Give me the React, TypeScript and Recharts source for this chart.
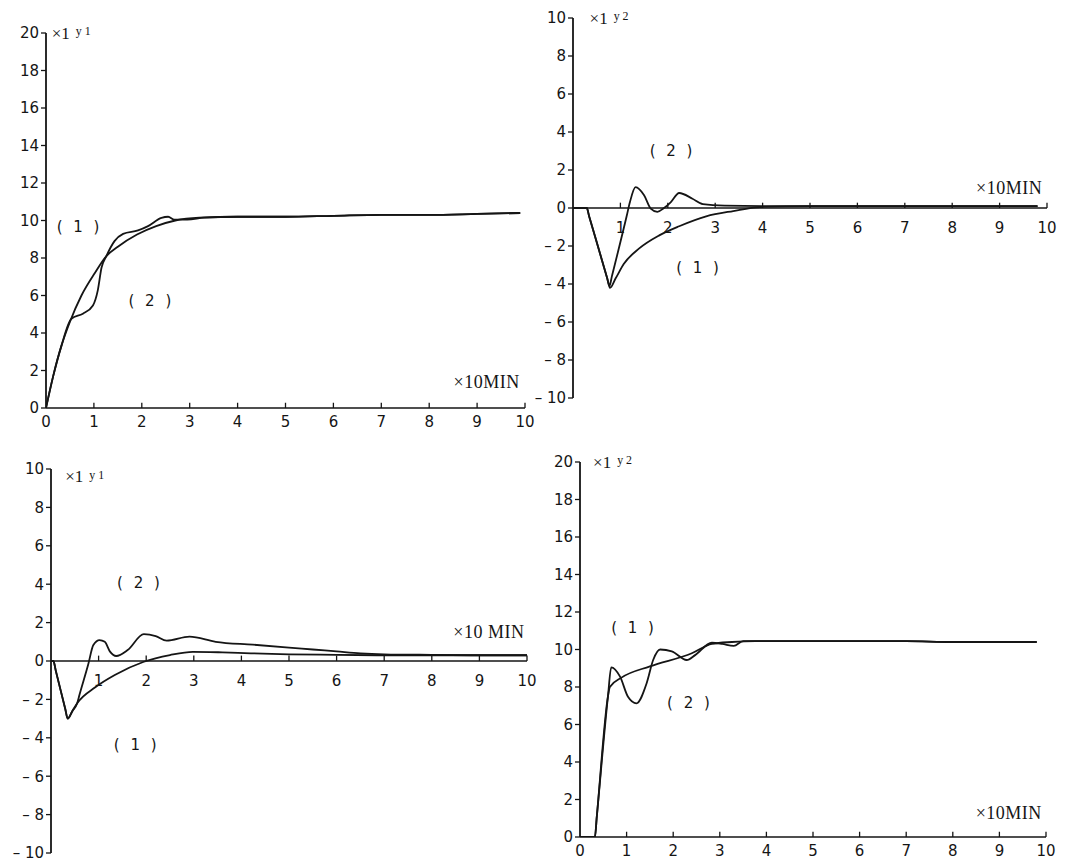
import React from "react";
import { LineChart, Line, XAxis, YAxis, ReferenceLine, ReferenceDot } from "recharts";

const INK = "#151515";
const NUM_FONT = "'DejaVu Sans', sans-serif";
const TITLE_FONT = "'Liberation Serif', serif";

const X_TICKS = [0, 1, 2, 3, 4, 5, 6, 7, 8, 9, 10];
const Y_TICKS_UP = [0, 2, 4, 6, 8, 10, 12, 14, 16, 18, 20];
const Y_TICKS_SYM = [-10, -8, -6, -4, -2, 0, 2, 4, 6, 8, 10];

// top left – y1, curves (1) and (2)
const tlX1 = [0, 0.15, 0.32, 0.5, 0.74, 1.02, 1.26, 1.5, 1.9, 2.3, 2.7, 3.2, 4, 5, 6, 7, 8, 9, 9.9];
const tlY1 = [0, 1.7, 3.3, 4.6, 6.0, 7.2, 8.1, 8.6, 9.25, 9.7, 10.0, 10.15, 10.2, 10.2, 10.25, 10.3, 10.3, 10.35, 10.4];
const tlX2 = [0, 0.15, 0.32, 0.53, 0.77, 0.98, 1.08, 1.16, 1.26, 1.43, 1.61, 1.92, 2.13, 2.41, 2.55, 2.68, 2.95, 3.3, 4, 5, 6, 7, 8, 9, 9.9];
const tlY2 = [0, 1.7, 3.3, 4.76, 5.03, 5.47, 6.26, 7.49, 8.1, 8.9, 9.29, 9.47, 9.7, 10.14, 10.2, 10.05, 10.05, 10.15, 10.2, 10.2, 10.25, 10.3, 10.3, 10.35, 10.4];

// top right – y2
const trX1 = [0, 0.29, 0.34, 0.72, 0.78, 0.9, 1.07, 1.39, 1.82, 2.24, 2.81, 3.38, 3.94, 5, 6, 7, 8, 9, 9.8];
const trY1 = [0, 0, -0.43, -3.68, -4.2, -3.7, -2.95, -2.14, -1.44, -0.96, -0.44, -0.16, 0.05, 0.1, 0.1, 0.1, 0.1, 0.1, 0.1];
const trX2 = [0, 0.29, 0.34, 0.72, 0.77, 0.82, 1.13, 1.2, 1.32, 1.5, 1.64, 1.78, 1.92, 2.06, 2.24, 2.52, 2.74, 3.2, 4, 5, 6, 7, 8, 9, 9.8];
const trY2 = [0, 0, -0.43, -3.68, -4.1, -3.6, -0.45, 0.3, 1.1, 0.67, -0.03, -0.2, 0.0, 0.3, 0.79, 0.49, 0.2, 0.12, 0.1, 0.1, 0.1, 0.1, 0.1, 0.1, 0.1];

// bottom left – y1
const blX1 = [0, 0.05, 0.1, 0.3, 0.35, 0.45, 0.55, 0.93, 1.34, 1.95, 2.5, 2.98, 3.6, 4.2, 5, 6, 7, 8, 9, 10];
const blY1 = [0, 0, -0.5, -2.5, -3.0, -2.6, -2.2, -1.37, -0.73, -0.04, 0.31, 0.48, 0.45, 0.4, 0.35, 0.32, 0.3, 0.3, 0.3, 0.3];
const blX2 = [0, 0.05, 0.1, 0.3, 0.35, 0.45, 0.55, 0.6, 0.78, 0.89, 1.02, 1.13, 1.24, 1.37, 1.61, 1.95, 2.2, 2.43, 2.91, 3.46, 4.24, 5, 5.5, 6, 6.5, 7, 8, 9, 10];
const blY2 = [0, 0, -0.5, -2.5, -3.0, -2.6, -2.2, -1.75, -0.2, 0.83, 1.09, 1.0, 0.49, 0.26, 0.57, 1.4, 1.3, 1.06, 1.27, 1.0, 0.85, 0.7, 0.6, 0.5, 0.4, 0.35, 0.32, 0.3, 0.3];

// bottom right – y2
const brX1 = [0, 0.32, 0.36, 0.6, 0.64, 0.89, 1.5, 2.4, 2.83, 3.26, 3.76, 5, 6, 7, 8, 9, 9.8];
const brY1 = [0, 0, 1.07, 7.5, 8.0, 8.5, 9.1, 9.8, 10.3, 10.4, 10.45, 10.45, 10.45, 10.45, 10.4, 10.4, 10.4];
const brX2 = [0, 0.32, 0.36, 0.6, 0.67, 0.86, 1.03, 1.21, 1.43, 1.57, 1.72, 1.97, 2.29, 2.47, 2.83, 3.05, 3.3, 3.5, 4, 5, 6, 7, 8, 9, 9.8];
const brY2 = [0, 0, 1.07, 7.5, 9.05, 8.55, 7.48, 7.13, 8.2, 9.44, 10.0, 9.9, 9.44, 9.7, 10.36, 10.3, 10.19, 10.45, 10.45, 10.45, 10.45, 10.45, 10.4, 10.4, 10.4];

type Pt = { x: number; y: number };
const zip = (xs: number[], ys: number[]): Pt[] => xs.map((x, i) => ({ x, y: ys[i] }));

const fmtY = (v: number) => (v < 0 ? `– ${Math.abs(v)}` : String(v));

// text annotation anchored on a ReferenceDot
function Note(props: any) {
  const { viewBox, text, sub, size = 15, font = NUM_FONT, anchor = "middle", spacing = 0, dy = 0 } = props;
  const cx = (viewBox?.x ?? 0) + (viewBox?.width ?? 0) / 2;
  const cy = (viewBox?.y ?? 0) + (viewBox?.height ?? 0) / 2 + dy;
  return (
    <text
      x={cx}
      y={cy}
      textAnchor={anchor}
      dominantBaseline="central"
      fontFamily={font}
      fontSize={size}
      fill={INK}
      letterSpacing={spacing}
    >
      {text}
      {sub ? (
        <tspan fontSize={size * 0.7} dx={6} dy={-2}>
          {sub}
        </tspan>
      ) : null}
    </text>
  );
}

interface Mark {
  x: number;
  y: number;
  text: string;
  sub?: string;
  size?: number;
  font?: string;
  anchor?: string;
  spacing?: number;
}

interface PanelProps {
  box: { left: number; top: number; width: number; height: number };
  yTicks: number[];
  curves: Pt[][];
  zeroAxis: boolean;
  marks: Mark[];
}

function Panel({ box, yTicks, curves, zeroAxis, marks }: PanelProps) {
  const ML = 46;
  const MT = 14;
  const MR = 20;
  const YW = 40;
  const XH = 30;
  const MB = zeroAxis ? 8 : XH + 4;
  const yDomain: [number, number] = [yTicks[0], yTicks[yTicks.length - 1]];
  const tickLen = (yDomain[1] - yDomain[0]) * 0.014;
  const tickStyle = { fill: INK, fontSize: 15, fontFamily: NUM_FONT };

  return (
    <div style={{ position: "absolute", left: box.left - ML, top: box.top - MT }}>
      <LineChart
        width={ML + box.width + MR}
        height={MT + box.height + MB}
        margin={{ left: ML - YW, top: MT, right: MR, bottom: zeroAxis ? MB : MB - XH }}
      >
        <XAxis
          type="number"
          dataKey="x"
          domain={[0, 10]}
          ticks={X_TICKS}
          interval={0}
          allowDataOverflow
          hide={zeroAxis}
          height={XH}
          axisLine={{ stroke: INK, strokeWidth: 1.7 }}
          tickLine={false}
          tick={tickStyle}
        />
        <YAxis
          type="number"
          domain={yDomain}
          ticks={yTicks}
          interval={0}
          allowDataOverflow
          width={YW}
          axisLine={{ stroke: INK, strokeWidth: 1.8 }}
          tickLine={{ stroke: INK, strokeWidth: 1.3 }}
          tickSize={5}
          tick={tickStyle}
          tickFormatter={fmtY}
        />
        {zeroAxis && <ReferenceLine y={0} stroke={INK} strokeWidth={1.7} />}
        {X_TICKS.slice(1).map((t) => (
          <ReferenceLine
            key={`tk${t}`}
            segment={[
              { x: t, y: 0 },
              { x: t, y: tickLen },
            ]}
            stroke={INK}
            strokeWidth={1.3}
          />
        ))}
        {zeroAxis &&
          X_TICKS.slice(1).map((t) => (
            <ReferenceDot
              key={`tl${t}`}
              x={t}
              y={0}
              r={1}
              fill="none"
              stroke="none"
              label={<Note text={String(t)} dy={20} />}
            />
          ))}
        {curves.map((c, i) => (
          <Line
            key={`c${i}`}
            data={c}
            dataKey="y"
            type="monotone"
            stroke={INK}
            strokeWidth={1.8}
            dot={false}
            isAnimationActive={false}
          />
        ))}
        {marks.map((m, i) => (
          <ReferenceDot
            key={`m${i}`}
            x={m.x}
            y={m.y}
            r={1}
            fill="none"
            stroke="none"
            label={
              <Note
                text={m.text}
                sub={m.sub}
                size={m.size}
                font={m.font}
                anchor={m.anchor}
                spacing={m.spacing}
              />
            }
          />
        ))}
      </LineChart>
    </div>
  );
}

export default function App() {
  return (
    <div
      style={{
        position: "absolute",
        left: 0,
        top: 0,
        width: 1067,
        height: 865,
        background: "#fff",
        overflow: "hidden",
      }}
    >
      <Panel
        box={{ left: 46, top: 33, width: 479, height: 375 }}
        yTicks={Y_TICKS_UP}
        curves={[zip(tlX1, tlY1), zip(tlX2, tlY2)]}
        zeroAxis={false}
        marks={[
          { x: 0.12, y: 20, text: "×1", sub: "y 1", size: 17, font: TITLE_FONT, anchor: "start" },
          { x: 0.7, y: 9.65, text: "( 1 )", spacing: 3 },
          { x: 2.2, y: 5.7, text: "( 2 )", spacing: 3 },
          { x: 9.2, y: 1.4, text: "×10MIN", size: 18, font: TITLE_FONT, spacing: 0.5 },
        ]}
      />
      <Panel
        box={{ left: 573, top: 18, width: 474, height: 380 }}
        yTicks={Y_TICKS_SYM}
        curves={[zip(trX1, trY1), zip(trX2, trY2)]}
        zeroAxis
        marks={[
          { x: 0.35, y: 10, text: "×1", sub: "y 2", size: 17, font: TITLE_FONT, anchor: "start" },
          { x: 2.1, y: 3.0, text: "( 2 )", spacing: 3 },
          { x: 2.66, y: -3.15, text: "( 1 )", spacing: 3 },
          { x: 9.2, y: 1.05, text: "×10MIN", size: 18, font: TITLE_FONT, spacing: 0.5 },
        ]}
      />
      <Panel
        box={{ left: 51, top: 469, width: 476, height: 384 }}
        yTicks={Y_TICKS_SYM}
        curves={[zip(blX1, blY1), zip(blX2, blY2)]}
        zeroAxis
        marks={[
          { x: 0.3, y: 9.6, text: "×1", sub: "y 1", size: 17, font: TITLE_FONT, anchor: "start" },
          { x: 1.87, y: 4.06, text: "( 2 )", spacing: 3 },
          { x: 1.8, y: -4.4, text: "( 1 )", spacing: 3 },
          { x: 9.2, y: 1.5, text: "×10 MIN", size: 18, font: TITLE_FONT, spacing: 0.5 },
        ]}
      />
      <Panel
        box={{ left: 580, top: 462, width: 466, height: 375 }}
        yTicks={Y_TICKS_UP}
        curves={[zip(brX1, brY1), zip(brX2, brY2)]}
        zeroAxis={false}
        marks={[
          { x: 0.28, y: 20, text: "×1", sub: "y 2", size: 17, font: TITLE_FONT, anchor: "start" },
          { x: 1.16, y: 11.15, text: "( 1 )", spacing: 3 },
          { x: 2.36, y: 7.15, text: "( 2 )", spacing: 3 },
          { x: 9.2, y: 1.3, text: "×10MIN", size: 18, font: TITLE_FONT, spacing: 0.5 },
        ]}
      />
    </div>
  );
}
